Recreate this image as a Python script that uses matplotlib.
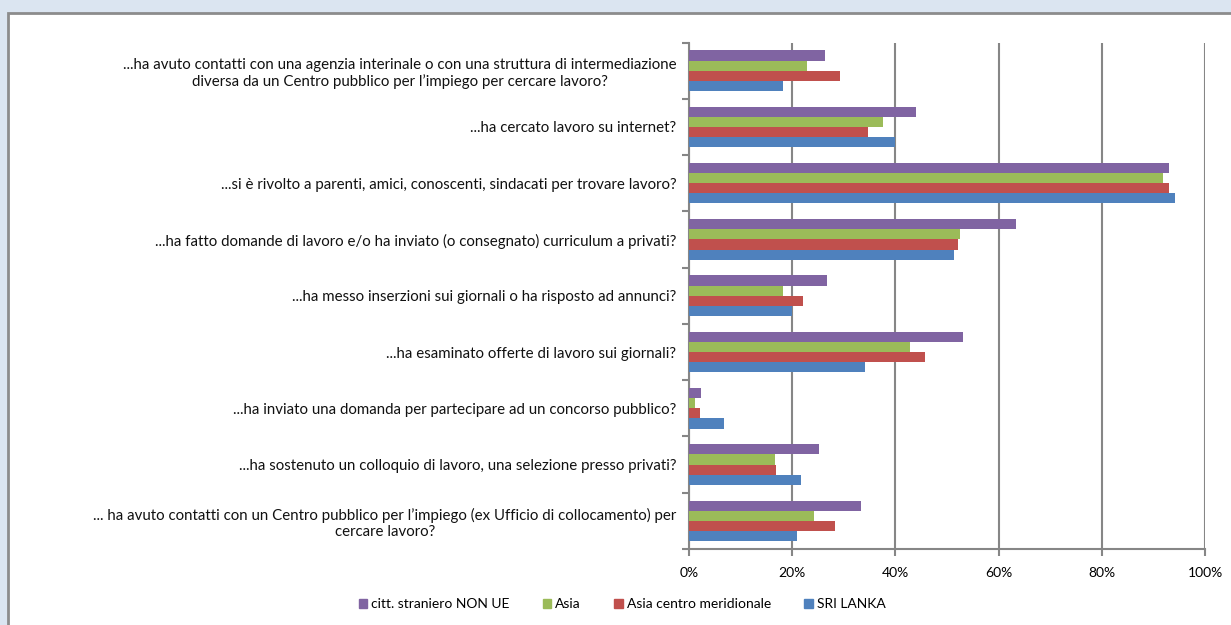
import matplotlib.pyplot as plt
import matplotlib.patches as mpatches
from matplotlib.ticker import FixedLocator, PercentFormatter
import numpy as np

# Categories, top to bottom
categories = [
    "...ha avuto contatti con una agenzia interinale o con una struttura di intermediazione\n"
    "diversa da un Centro pubblico per l\u2019impiego per cercare lavoro?",
    "...ha cercato lavoro su internet?",
    "...si \u00e8 rivolto a parenti, amici, conoscenti, sindacati per trovare lavoro?",
    "...ha fatto domande di lavoro e/o ha inviato (o consegnato) curriculum a privati?",
    "...ha messo inserzioni sui giornali o ha risposto ad annunci?",
    "...ha esaminato offerte di lavoro sui giornali?",
    "...ha inviato una domanda per partecipare ad un concorso pubblico?",
    "...ha sostenuto un colloquio di lavoro, una selezione presso privati?",
    "... ha avuto contatti con un Centro pubblico per l\u2019impiego (ex Ufficio di collocamento) per\n"
    "cercare lavoro?",
]

series_names = ["citt. straniero NON UE", "Asia", "Asia centro meridionale", "SRI LANKA"]

non_ue = [26.3, 43.9, 93.0, 63.3, 26.8, 53.1, 2.3, 25.1, 33.4]
asia = [22.8, 37.5, 91.8, 52.5, 18.3, 42.8, 1.2, 16.6, 24.2]
asia_cm = [29.2, 34.6, 93.0, 52.2, 22.1, 45.7, 2.1, 16.8, 28.3]
sri_lanka = [18.3, 40.0, 94.2, 51.3, 20.0, 34.2, 6.8, 21.8, 21.0]

colors = ["#8064A2", "#9BBB59", "#C0504D", "#4F81BD"]

plt.rcParams['font.family'] = ['Lato', 'DejaVu Sans']

fig = plt.figure(figsize=(12.31, 6.25), dpi=100)
fig.patch.set_facecolor('#dbe5f1')
# white chart panel
panel = mpatches.Rectangle((8 / 1231, -0.01), 1.0, 1 - 13 / 625 + 0.01,
                           transform=fig.transFigure, facecolor='white',
                           edgecolor='#8c8c8c', linewidth=2, zorder=-1)
fig.patches.append(panel)

ax = fig.add_axes([689 / 1231, 1 - 549 / 625, 516 / 1231, 506.5 / 625])
ax.set_facecolor('none')

y = np.arange(len(categories))
h = 0.18
all_series = [non_ue, asia, asia_cm, sri_lanka]
for i, (vals, col, name) in enumerate(zip(all_series, colors, series_names)):
    ax.barh(y + (i - 1.5) * h, vals, height=h, color=col, label=name, zorder=3)

ax.set_xlim(0, 100)
ax.set_ylim(len(categories) - 0.5, -0.5)
ax.xaxis.set_major_locator(FixedLocator([0, 20, 40, 60, 80, 100]))
ax.xaxis.set_major_formatter(PercentFormatter(decimals=0))

ax.yaxis.set_major_locator(FixedLocator(np.arange(-0.5, len(categories), 1)))
ax.yaxis.set_major_formatter(plt.NullFormatter())
ax.yaxis.set_minor_locator(FixedLocator(y))
ax.set_yticklabels(categories, minor=True)
ax.tick_params(axis='y', which='minor', length=0, pad=9, labelsize=10.8, labelcolor='#111111')
ax.tick_params(axis='y', which='major', length=5, color='#868686', width=1.5)
ax.tick_params(axis='x', length=5, color='#868686', width=1.5, labelsize=10, pad=8)
for lbl in ax.get_yticklabels(minor=True):
    lbl.set_multialignment('center')

ax.grid(axis='x', color='#868686', linewidth=1.5, zorder=1)
for s in ['top', 'right']:
    ax.spines[s].set_visible(False)
for s in ['left', 'bottom']:
    ax.spines[s].set_color('#868686')
    ax.spines[s].set_linewidth(1.5)

handles = [mpatches.Patch(color=c, label=n) for c, n in zip(colors, series_names)]
fig.legend(handles=handles, loc='center', bbox_to_anchor=(622 / 1231, 1 - 604 / 625),
           ncol=4, frameon=False, fontsize=10, handlelength=0.6, handleheight=0.6,
           handletextpad=0.3, columnspacing=2.4)

plt.savefig('out.png', dpi=100, facecolor=fig.get_facecolor())
